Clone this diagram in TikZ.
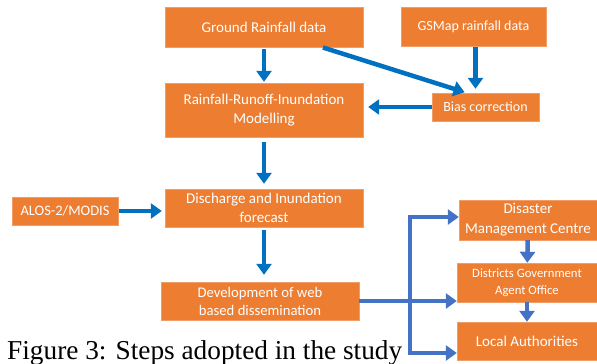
\documentclass[tikz,border=0pt]{standalone}
\usepackage{fontspec}
\setmainfont{Liberation Serif}
\newfontfamily\boxfont{Carlito}
\usepackage{tikz}
\usetikzlibrary{arrows.meta}

\definecolor{boxorange}{RGB}{237,125,49}
\definecolor{arrowblue}{RGB}{0,112,192}
\definecolor{linkblue}{RGB}{68,114,196}

\begin{document}
\begin{tikzpicture}[x=1pt,y=-1pt,>={Triangle[length=11pt,width=15pt]},
	stepbox/.style={fill=boxorange, draw=boxorange!75!white, text=white, align=center, inner sep=1pt,
		font=\boxfont\fontsize{15}{19}\selectfont},
	flow/.style={->, draw=arrowblue, line width=4.5pt},
	link/.style={->, draw=linkblue, line width=4.5pt}]
			\useasboundingbox (0,0) rectangle (597,364);
			
			\node[stepbox, minimum width=198pt, minimum height=40pt] (ground) at (264,27) {Ground Rainfall data};
			\node[stepbox, minimum width=145pt, minimum height=39pt, font=\boxfont\fontsize{14}{17}\selectfont] (gsmap) at (473.5,26.5) {GSMap rainfall data};
			\node[stepbox, minimum width=198pt, minimum height=54pt] (rri) at (264,110) {Rainfall-Runoff-Inundation\\Modelling};
			\node[stepbox, minimum width=107pt, minimum height=28pt, font=\boxfont\fontsize{14}{17}\selectfont] (bias) at (485.5,107) {Bias correction};
			\node[stepbox, minimum width=106pt, minimum height=28pt, font=\boxfont\fontsize{14.5}{17}\selectfont] (alos) at (65,211) {ALOS-2/MODIS};
			\node[stepbox, minimum width=198pt, minimum height=38pt] (discharge) at (264,208) {Discharge and Inundation\\forecast};
			\node[stepbox, minimum width=198pt, minimum height=38pt, font=\boxfont\fontsize{14.7}{18}\selectfont] (dev) at (260,301) {Development of web\\based dissemination};
			\node[stepbox, minimum width=138pt, minimum height=40pt, font=\boxfont\fontsize{15}{20}\selectfont] (dmc) at (528,220) {Disaster\\Management Centre};
			\node[stepbox, minimum width=140pt, minimum height=39pt, font=\boxfont\fontsize{12.7}{17}\selectfont] (dist) at (527,282.5) {Districts Government\\Agent Office};
			\node[stepbox, minimum width=140pt, minimum height=38pt] (local) at (527,341) {Local Authorities};
			
			\node[anchor=base west, inner sep=0pt, font=\fontsize{27.3}{30}\selectfont] (caption) at (7,359) {Figure 3: Steps adopted in the study};
			
			% upper part
			\draw[flow, shorten <=2pt, shorten >=1pt] (ground) -- (rri);
			\draw[flow, shorten <=1pt, shorten >=2pt] ([xshift=58pt]ground.south) -- ([xshift=-19pt]bias.north);
			\draw[flow, shorten <=1pt, shorten >=4pt] ([xshift=2pt]gsmap.south) -- ([xshift=2pt]gsmap.south |- bias.north);
			\draw[flow, shorten >=5pt] (bias.west) -- (rri.east |- bias.west);
			\draw[flow, shorten <=5pt, shorten >=5pt] (rri) -- (discharge);
			\draw[flow, shorten <=1pt, shorten >=3pt] (alos) -- (alos -| discharge.west);
			\draw[flow, shorten <=3pt, shorten >=7pt] (discharge.south) -- (discharge.south |- dev.north);
			
			% dissemination
			\coordinate (split) at (410,300);
			\draw[link] (dev.east) -- (dev.east -| dist.west);
			\draw[link] (split) |- ([yshift=3pt]dmc.west);
			\draw[link] (split) |- ([yshift=-12pt]local.west);
			\draw[link] (dmc) -- (dist);
			\draw[link] (dist) -- (local);
		\end{tikzpicture}
\end{document}
